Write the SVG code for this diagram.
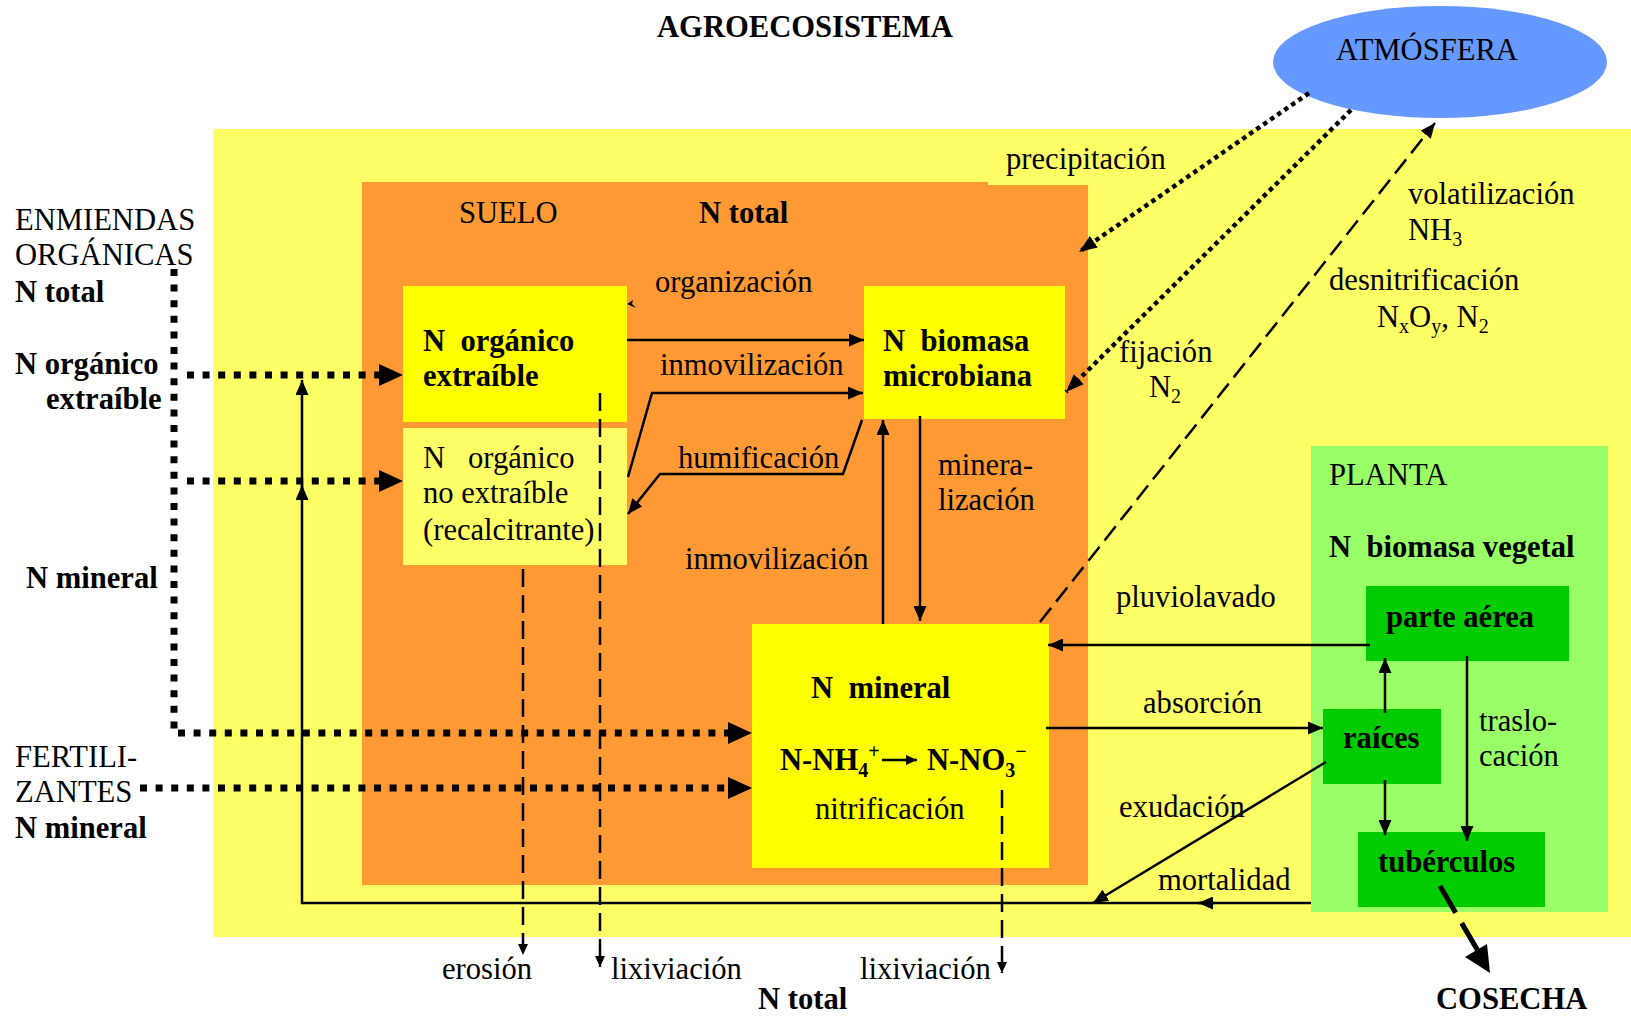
<svg xmlns="http://www.w3.org/2000/svg" width="1631" height="1017" viewBox="0 0 1631 1017">
<style>
text{font-family:"Liberation Serif","Times New Roman",serif;font-size:30.6px;fill:#000;white-space:pre;transform:translateY(1.5px)}
.b{font-weight:bold}
.sub{font-size:20px}
.ln{fill:none;stroke:#000;stroke-width:2.5}
.dotB{fill:none;stroke:#000;stroke-width:7;stroke-dasharray:7 8.6}
.dotS{fill:none;stroke:#000;stroke-width:4.5;stroke-dasharray:4.5 4}
.dash{fill:none;stroke:#000;stroke-width:2.5;stroke-dasharray:18 8}
</style>
<defs>
<marker id="ms" markerUnits="userSpaceOnUse" markerWidth="16" markerHeight="13" refX="15" refY="6.5" orient="auto"><path d="M0,0 L15,6.5 L0,13 z" fill="#000"/></marker>
<marker id="md" markerUnits="userSpaceOnUse" markerWidth="19" markerHeight="15" refX="18" refY="7" orient="auto"><path d="M0,0 L18,7 L0,14 z" fill="#000"/></marker>
<marker id="mt" markerUnits="userSpaceOnUse" markerWidth="12" markerHeight="11" refX="11" refY="5" orient="auto"><path d="M0,0 L11,5 L0,10 z" fill="#000"/></marker>
</defs>
<rect width="1631" height="1017" fill="#fff"/>

<g id="agroecosistema">
<rect x="213" y="129" width="1418" height="808" fill="#FFFF66"/>
<text class="b" x="657" y="35">AGROECOSISTEMA</text>
</g>

<g id="suelo">
<path d="M362,182 H988 V185 H1088 V885 H362 Z" fill="#FF9933"/>
<text x="459" y="221">SUELO</text>
<text class="b" x="699" y="221">N total</text>
</g>

<g id="atmosfera">
<ellipse cx="1440" cy="62" rx="167" ry="56" fill="#6699FF"/>
<text x="1336" y="58">ATMÓSFERA</text>
</g>

<g id="n-organico-extraible">
<rect x="403" y="286" width="224" height="136" fill="#FFFF00"/>
<text class="b" x="423" y="349">N  orgánico</text>
<text class="b" x="423" y="384">extraíble</text>
</g>

<g id="n-organico-no-extraible">
<rect x="403" y="428" width="224" height="137" fill="#FFFF66"/>
<text x="423" y="466">N   orgánico</text>
<text x="423" y="501">no extraíble</text>
<text x="423" y="538">(recalcitrante)</text>
</g>

<g id="n-biomasa-microbiana">
<rect x="864" y="286" width="201" height="133" fill="#FFFF00"/>
<text class="b" x="883" y="349">N  biomasa</text>
<text class="b" x="883" y="384">microbiana</text>
</g>

<g id="n-mineral">
<rect x="752" y="624" width="297" height="244" fill="#FFFF00"/>
<text class="b" x="811" y="696">N  mineral</text>
<text class="b" x="780" y="768">N-NH<tspan class="sub" dy="7">4</tspan><tspan class="sub" dy="-19">+</tspan></text>
<text class="b" x="927" y="768">N-NO<tspan class="sub" dy="7">3</tspan><tspan class="sub" dy="-19">−</tspan></text>
<text x="815" y="817">nitrificación</text>
</g>

<g id="planta">
<rect x="1311" y="446" width="297" height="466" fill="#99FF66"/>
<text x="1329" y="483">PLANTA</text>
<text class="b" x="1329" y="555">N  biomasa vegetal</text>
</g>

<g id="parte-aerea">
<rect x="1366" y="586" width="203" height="75" fill="#00CC00"/>
<text class="b" x="1386" y="625">parte aérea</text>
</g>

<g id="raices">
<rect x="1323" y="709" width="118" height="75" fill="#00CC00"/>
<text class="b" x="1343" y="746">raíces</text>
</g>

<g id="tuberculos">
<rect x="1358" y="832" width="187" height="75" fill="#00CC00"/>
<text class="b" x="1378" y="870">tubérculos</text>
</g>

<g id="enmiendas">
<text x="15" y="228">ENMIENDAS</text>
<text x="15" y="263">ORGÁNICAS</text>
<text class="b" x="15" y="300">N total</text>
<text class="b" x="15" y="372">N orgánico</text>
<text class="b" x="46" y="407">extraíble</text>
<text class="b" x="26" y="586">N mineral</text>
</g>

<g id="fertilizantes">
<text x="15" y="765">FERTILI-</text>
<text x="15" y="800">ZANTES</text>
<text class="b" x="15" y="836">N mineral</text>
</g>

<g id="cosecha">
<text class="b" x="1436" y="1007">COSECHA</text>
</g>

<g id="salidas">
<text x="442" y="977">erosión</text>
<text x="611" y="977">lixiviación</text>
<text x="860" y="977">lixiviación</text>
<text class="b" x="758" y="1007">N total</text>
</g>

<g id="connectors">
<path class="dotB" d="M174,269 V733 H728"/>
<path d="M728,722 L752,733 L728,744 z" fill="#000"/>
<path class="dotB" d="M187,375 H380"/>
<path d="M379,364 L403,375 L379,386 z" fill="#000"/>
<path class="dotB" d="M187,481 H380"/>
<path d="M379,470 L403,481 L379,492 z" fill="#000"/>
<path class="dotB" d="M140,788 H728"/>
<path d="M728,777 L752,788 L728,799 z" fill="#000"/>
<path class="dotS" d="M1309,93 L1079,252" marker-end="url(#md)"/>
<path class="dotS" d="M1351,110 L1066,392" marker-end="url(#md)"/>
<path class="dash" d="M1040,622 L1435,123" marker-end="url(#ms)"/>
<path class="ln" d="M627,340 H864" marker-end="url(#ms)"/>
<path class="ln" d="M628,477 L652,393 H863" marker-end="url(#ms)"/>
<path class="ln" d="M862,420 L843,474 H660 L628,514" marker-end="url(#ms)"/>
<path d="M627,304 L633,300 L632,304 L636,308 z" fill="#000"/>
<path class="ln" d="M883,624 V420" marker-end="url(#ms)"/>
<path class="ln" d="M920,416 V621" marker-end="url(#ms)"/>
<path class="ln" d="M882,760 H917" marker-end="url(#mt)"/>
<path class="ln" d="M1370,645 H1048" marker-end="url(#ms)"/>
<path class="ln" d="M1046,728 H1323" marker-end="url(#ms)"/>
<path class="ln" d="M1385,713 V658" marker-end="url(#ms)"/>
<path class="ln" d="M1385,780 V835" marker-end="url(#ms)"/>
<path class="ln" d="M1467,656 V841" marker-end="url(#ms)"/>
<path class="ln" d="M1326,762 L1093,903" marker-end="url(#ms)"/>
<path class="ln" d="M1311,903 H302 V380" marker-end="url(#ms)"/>
<path class="ln" d="M302,500 V485" marker-end="url(#ms)"/>
<path class="ln" d="M1215,903 H1198" marker-end="url(#ms)"/>
<path class="dash" d="M523,569 V955" marker-end="url(#mt)"/>
<path class="dash" d="M600,393 V967" marker-end="url(#mt)"/>
<path class="dash" d="M1002,790 V973" marker-end="url(#mt)"/>
<path fill="none" stroke="#000" stroke-width="5" stroke-dasharray="31 12" d="M1440,886 L1478,951"/>
<path d="M1490,973 L1465,957 L1487,944 z" fill="#000"/>
</g>

<g id="labels">
<text x="655" y="290">organización</text>
<text x="660" y="373">inmovilización</text>
<text x="678" y="466">humificación</text>
<text x="685" y="567">inmovilización</text>
<text x="938" y="473">minera-</text>
<text x="938" y="508">lización</text>
<text x="1006" y="167">precipitación</text>
<text x="1408" y="202">volatilización</text>
<text x="1408" y="238">NH<tspan class="sub" dy="6">3</tspan></text>
<text x="1329" y="288">desnitrificación</text>
<text x="1377" y="325">N<tspan class="sub" dy="6">x</tspan><tspan dy="-6">O</tspan><tspan class="sub" dy="6">y</tspan><tspan dy="-6">, N</tspan><tspan class="sub" dy="6">2</tspan></text>
<text x="1119" y="360">fijación</text>
<text x="1149" y="395">N<tspan class="sub" dy="6">2</tspan></text>
<text x="1116" y="605">pluviolavado</text>
<text x="1143" y="711">absorción</text>
<text x="1479" y="729">traslo-</text>
<text x="1479" y="764">cación</text>
<text x="1119" y="815">exudación</text>
<text x="1158" y="888">mortalidad</text>
</g>
</svg>
